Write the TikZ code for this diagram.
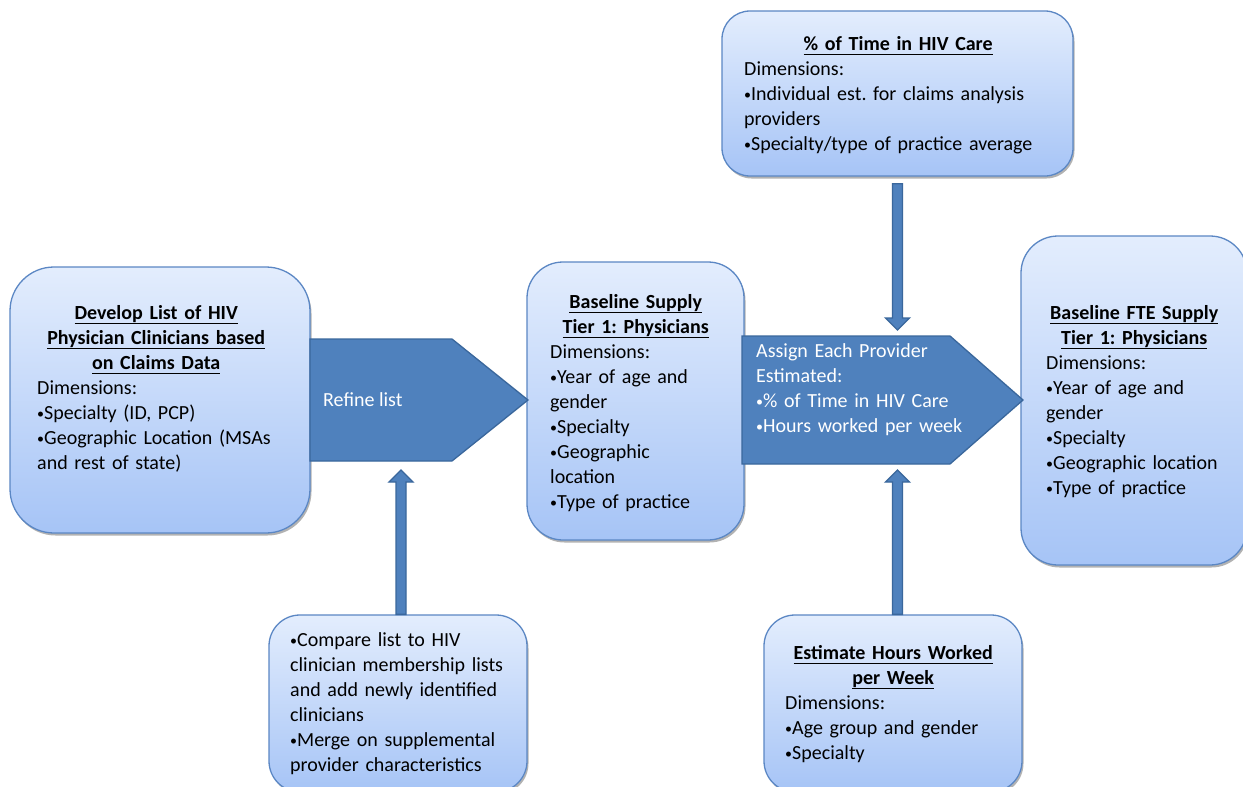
\documentclass[tikz,border=0pt]{standalone}
\usepackage{fontspec}
\setmainfont{Carlito}
\usetikzlibrary{calc,shadows}
\definecolor{boxtop}{HTML}{E3EDFD}
\definecolor{boxbot}{HTML}{A6C4F6}
\definecolor{boxline}{HTML}{5B87C4}
\definecolor{arrfill}{HTML}{4F81BD}
\definecolor{arrline}{HTML}{3A679C}
\newlength{\ulw}
\newcommand{\uln}[1]{\leavevmode\settowidth{\ulw}{#1}\rlap{\rule[-4.6pt]{\ulw}{1.3pt}}#1}
\newcommand{\bul}{{\fontsize{14}{14}\selectfont\raisebox{0.8pt}{•}}}
\newcommand{\varrow}[3]{\draw[blockarr] ($(#1)+(-5,0)$) -- ($(#2)+(-5,#3)$) -- ($(#2)+(-12,#3)$) -- (#2) -- ($(#2)+(12,#3)$) -- ($(#2)+(5,#3)$) -- ($(#1)+(5,0)$) -- cycle;}
\frenchspacing
\begin{document}
\begin{tikzpicture}[x=1pt,y=-1pt,
  box/.style={draw=boxline, line width=1.3pt, top color=boxtop, bottom color=boxbot,
    drop shadow={shadow xshift=1.5pt,shadow yshift=-2.5pt,opacity=0.3,fill=black}, inner sep=0pt},
  blockarr/.style={fill=arrfill, draw=arrline, line width=1.3pt, line join=miter},
  txt/.style={font=\fontsize{20}{25}\selectfont, text=black, inner sep=0pt, align=left, anchor=north west},
  wtxt/.style={txt, text=white}]
\useasboundingbox[fill=white] (0,0) rectangle (1243,787);

% boxes
\node[box, minimum width=300pt, minimum height=266pt, rounded corners=44pt] (dev) at (160,400) {};
\node[box, minimum width=217pt, minimum height=278pt, rounded corners=36pt] (base) at (635.5,401) {};
\node[box, minimum width=226pt, minimum height=329pt, rounded corners=37pt] (fte) at (1134,400.5) {};
\node[box, minimum width=351pt, minimum height=165pt, rounded corners=28pt] (pct) at (897.5,93.5) {};
\node[box, minimum width=258pt, minimum height=177pt, rounded corners=31pt] (cmp) at (398,703.5) {};
\node[box, minimum width=258pt, minimum height=177pt, rounded corners=31pt] (hrs) at (893,703.5) {};

% pentagon arrows
\draw[blockarr] (310,339) coordinate (r1) -- (452,339) -- (528,400) coordinate (rtip) -- (452,461) -- (310,461) coordinate (r5) -- cycle;
\draw[blockarr] (742,336) coordinate (a1) -- (950,336) -- (1023,400) coordinate (atip) -- (950,464) -- (742,464) coordinate (a5) -- cycle;

% vertical arrows
\coordinate (d1) at ($(pct.south)+(0,7)$);
\coordinate (d2) at ($(pct.south |- a1)+(0,-6)$);
\varrow{d1}{d2}{-12}
\coordinate (u1) at (pct.south |- hrs.north);
\coordinate (u2) at ($(pct.south |- a5)+(0,6)$);
\varrow{u1}{u2}{12}
\coordinate (l1) at ($(cmp.north)+(3,0)$);
\coordinate (l2) at ($(cmp.north |- r5)+(3,9)$);
\varrow{l1}{l2}{12}

% texts
\node[txt, text width=238pt] (devt) at (37,305.5) {{\centering\bfseries\uln{Develop List of HIV}\\\uln{Physician Clinicians based}\\\uln{on Claims Data}\par}Dimensions:\\\bul Specialty (ID, PCP)\\\bul Geographic Location (MSAs\\and rest of state)};
\node[wtxt, anchor=west] (reft) at (323,400) {Refine list};
\node[txt, text width=171pt] (baset) at (550,294.5) {{\centering\bfseries\uln{Baseline Supply}\\\uln{Tier 1: Physicians}\par}Dimensions:\\\bul Year of age and\\gender\\\bul Specialty\\\bul Geographic\\location\\\bul Type of practice};
\node[wtxt, text width=220pt] (asst) at (756,343.5) {Assign Each Provider\\Estimated:\\\bul\% of Time in HIV Care\\\bul Hours worked per week};
\node[txt, text width=176pt] (ftet) at (1046,305.5) {{\centering\bfseries\uln{Baseline FTE Supply}\\\uln{Tier 1: Physicians}\par}Dimensions:\\\bul Year of age and\\gender\\\bul Specialty\\\bul Geographic location\\\bul Type of practice};
\node[txt, text width=308pt] (pctt) at (744,36.5) {{\centering\bfseries\uln{\% of Time in HIV Care}\par}Dimensions:\\\bul Individual est. for claims analysis\\providers\\\bul Specialty/type of practice average};
\node[txt, text width=235pt] (cmpt) at (290,632.5) {\bul Compare list to HIV\\clinician membership lists\\and add newly identified\\clinicians\\\bul Merge on supplemental\\provider characteristics};
\node[txt, text width=216pt] (hrst) at (785,645.5) {{\centering\bfseries\uln{Estimate Hours Worked}\\\uln{per Week}\par}Dimensions:\\\bul Age group and gender\\\bul Specialty};
\end{tikzpicture}
\end{document}
